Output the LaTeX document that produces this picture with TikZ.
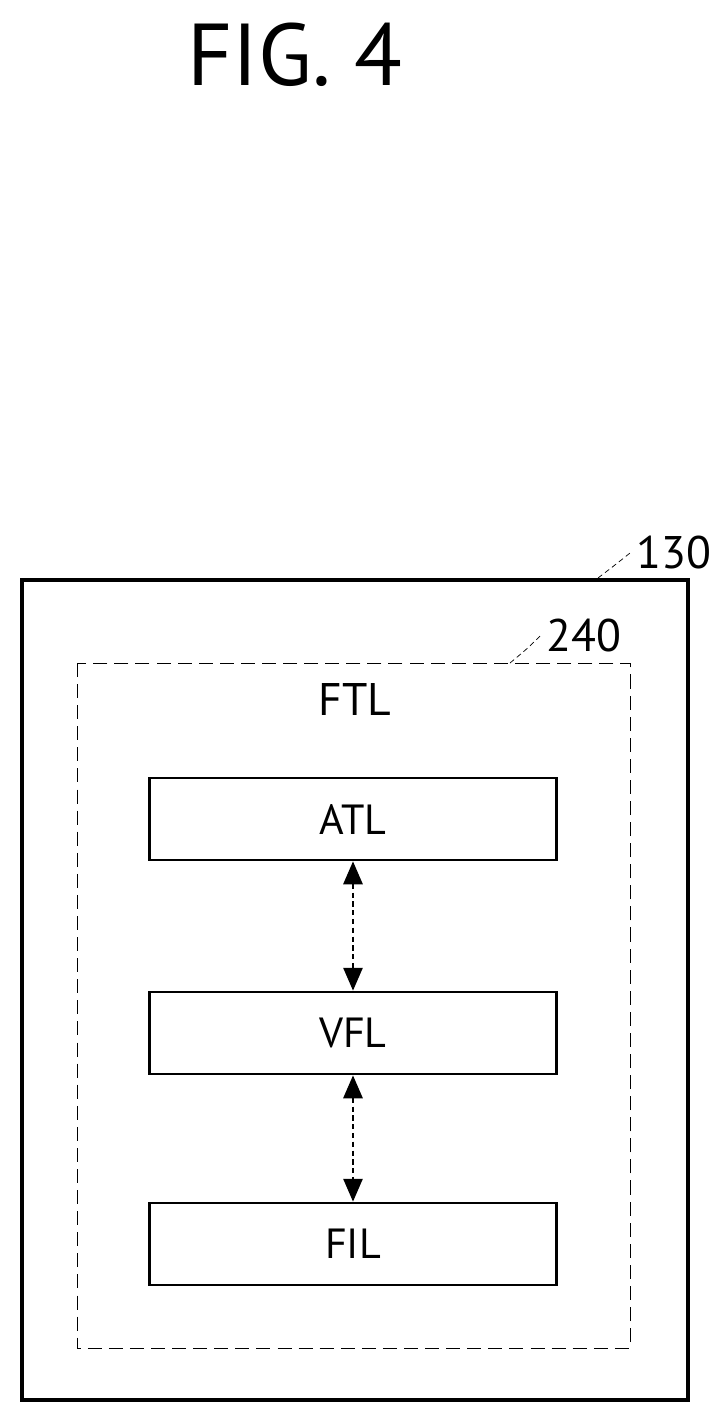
\documentclass[tikz,border=0pt]{standalone}
\usepackage{fontspec}
\setmainfont{PT Sans}
\usetikzlibrary{arrows.meta}
\begin{document}
\begin{tikzpicture}[x=0.02cm,y=-0.02cm,
  blk/.style={draw,line width=1.6pt,minimum width=407*0.02cm,minimum height=82*0.02cm,font=\fontsize{24}{28}\selectfont},
  lbl/.style={font=\fontsize{26}{30}\selectfont},
  arr/.style={densely dashed,line width=1pt,{Triangle[length=13pt,width=11pt]}-{Triangle[length=13pt,width=11pt]}}]
\useasboundingbox (0,0) rectangle (713,1424);
\node[font=\fontsize{50}{56}\selectfont] (title) at (295,55) {FIG. 4};
\draw[line width=2pt] (22,580) rectangle (688,1400);
\coordinate (o1) at (598,578);
\node[lbl,anchor=west] (l130) at (630,553) {130};
\draw[densely dashed] (o1) .. controls (615,565) .. (l130.west);
\draw[dashed,dash pattern=on 8pt off 4pt] (77,663) rectangle (630,1348);
\coordinate (d1) at (510,663);
\node[lbl,anchor=west] (l240) at (540,636) {240};
\draw[densely dashed] (d1) .. controls (528,648) .. (l240.west);
\node[lbl] (ftl) at (355,700) {FTL};
\node[blk] (atl) at (353,819) {ATL};
\node[blk] (vfl) at (353,1033) {VFL};
\node[blk] (fil) at (353,1244) {FIL};
\draw[arr] (atl) -- (vfl);
\draw[arr] (vfl) -- (fil);
\end{tikzpicture}
\end{document}
